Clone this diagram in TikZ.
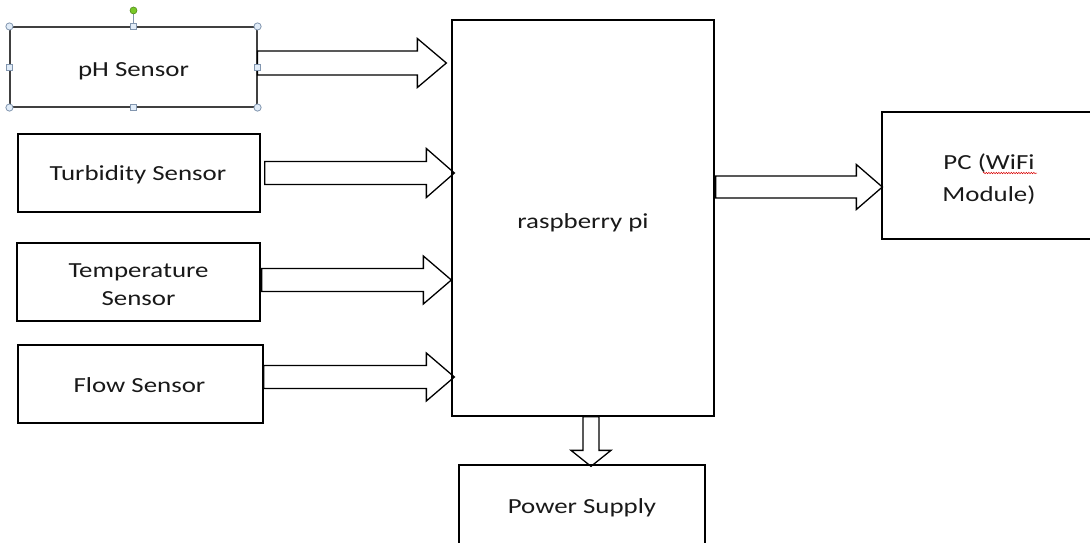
\documentclass[tikz,border=0pt]{standalone}
\usepackage{fontspec}
\setmainfont{Carlito}[FakeStretch=1.25]
\usetikzlibrary{calc,decorations.pathmorphing}
\newcommand\rarrow[5]{%
  \draw[barrow] let \p1=(#1), \p2=(#2) in
    (\x1,\y1+#4) -- (\x2-#3,\y1+#4) -- (\x2-#3,\y1+#5) -- (\x2,\y1)
    -- (\x2-#3,\y1-#5) -- (\x2-#3,\y1-#4) -- (\x1,\y1-#4) -- cycle;}
\newcommand\darrow[5]{%
  \draw[barrow] let \p1=(#1), \p2=(#2) in
    (\x1-#4,\y1) -- (\x1-#4,\y2+#3) -- (\x1-#5,\y2+#3) -- (\x1,\y2)
    -- (\x1+#5,\y2+#3) -- (\x1+#4,\y2+#3) -- (\x1+#4,\y1) -- cycle;}
\definecolor{handlefill}{RGB}{225,236,248}
\definecolor{handledraw}{RGB}{130,150,175}
\definecolor{rotgreen}{RGB}{120,200,40}
\begin{document}
\begin{tikzpicture}[x=1pt,y=-1pt,
  box/.style={draw=black, line width=1.3pt, inner sep=0pt},
  lbl/.style={inner sep=0pt, text=black!90, font=\fontsize{21.5}{28}\selectfont, align=center},
  barrow/.style={draw=black, line width=1.3pt, fill=none, line join=miter}]
\useasboundingbox (0,0) rectangle (1090,542);
\clip (0,0) rectangle (1090,542);

\node[box, draw=black!75, line width=1.1pt, minimum width=247pt, minimum height=80pt] (ph) at (133.5,67) {};
\node[box, minimum width=242pt, minimum height=78pt] (turb) at (139,173) {};
\node[box, minimum width=243pt, minimum height=78pt] (temp) at (138.5,282) {};
\node[box, minimum width=245pt, minimum height=78pt] (flow) at (140.5,384) {};
\node[box, minimum width=262pt, minimum height=396pt] (rpi) at (583,218) {};
\node[box, minimum width=218pt, minimum height=127pt] (pc) at (991,175.5) {};
\node[box, minimum width=246pt, minimum height=80pt] (pwr) at (582,505) {};

\node[lbl] (phT) at ($(ph.center)+(0,4)$) {pH Sensor};
\node[lbl] (turbT) at ($(turb.center)+(-1,2)$) {Turbidity Sensor};
\node[lbl] (tempT) at ($(temp.center)+(0,2.5)$) {Temperature\\Sensor};
\node[lbl] (flowT) at ($(flow.center)+(-1,1)$) {Flow Sensor};
\node[lbl] (rpiT) at ($(rpi.center)+(0,4.5)$) {raspberry pi};
\node[lbl, font=\fontsize{21.5}{32.5}\selectfont] (pcT) at ($(pc.center)+(-2,3.5)$) {PC (WiFi\\Module)};
\node[lbl] (pwrT) at ($(pwr.center)+(0,2.5)$) {Power Supply};

% block arrows
\rarrow{$(ph.east)+(0,-4)$}{$(rpi.west)+(-5,0)$}{29pt}{12pt}{24.5pt}
\rarrow{$(turb.east)+(4,0)$}{$(rpi.west)+(3,0)$}{28pt}{11.5pt}{24.5pt}
\rarrow{$(temp.east)+(1,-2)$}{$(rpi.west)$}{28pt}{11.5pt}{24pt}
\rarrow{$(flow.east)+(0,-7)$}{$(rpi.west)+(3,0)$}{28pt}{11.5pt}{24pt}
\rarrow{$(rpi.east)+(1,-31)$}{$(pc.west)+(1,0)$}{26pt}{11pt}{22.5pt}
\darrow{$(rpi.south)+(8,0)$}{$(pwr.north)+(9,2)$}{16pt}{8pt}{20pt}

% selection handles on pH Sensor box
\draw[handledraw, line width=0.8pt] (ph.north) -- ++(0,-15);
\filldraw[draw=rotgreen!70!black, fill=rotgreen, line width=0.6pt] ($(ph.north)+(0,-16)$) circle (3.5pt);
\foreach \a in {north west, north east, south west, south east}
  \filldraw[draw=handledraw, fill=handlefill, line width=0.8pt] (ph.\a) circle (3.6pt);
\foreach \a in {north, south, east, west}
  \filldraw[draw=handledraw, fill=handlefill, line width=0.8pt] ($(ph.\a)+(-3,-3)$) rectangle ++(6,6);

% spell-check underline under "WiFi"
\draw[red!85!black, line width=0.5pt, decorate, decoration={snake, amplitude=0.7pt, segment length=2.5pt}]
  ($(pcT.center)+(-6,-6)$) -- ($(pcT.center)+(48,-6)$);
\end{tikzpicture}
\end{document}
